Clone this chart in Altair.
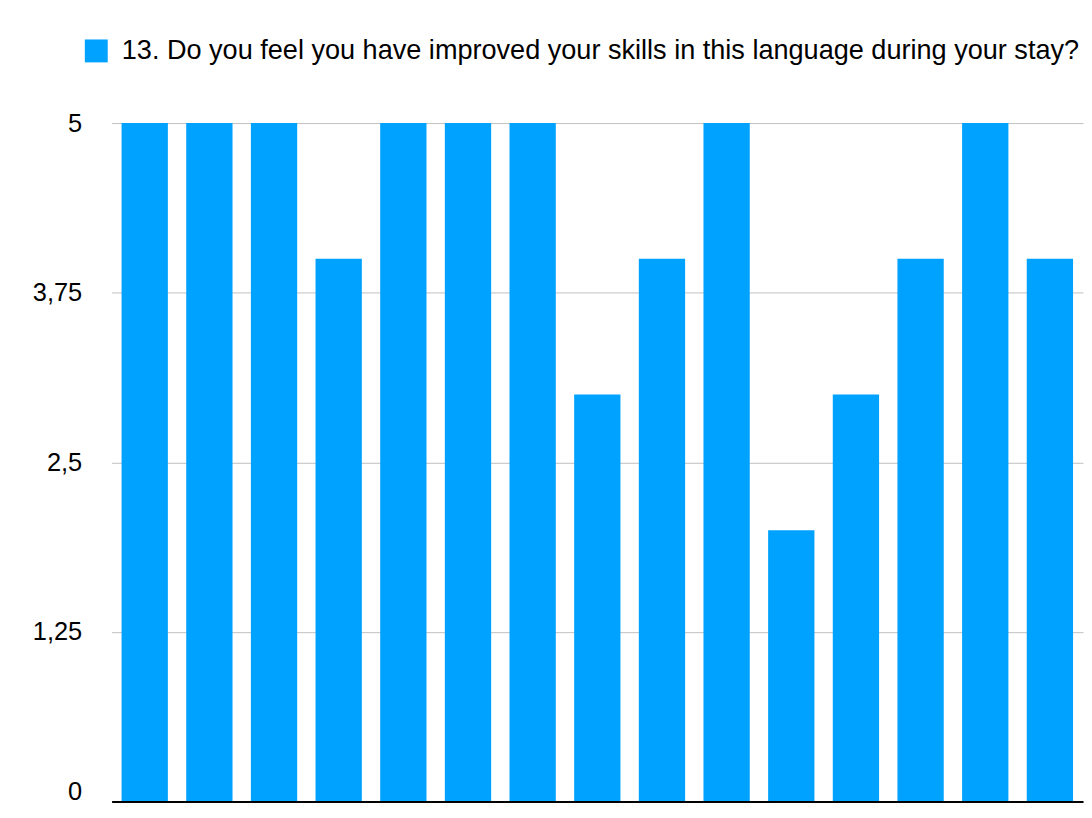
import altair as alt
import pandas as pd

respondents = [str(i) for i in range(1, 16)]
scores = [5, 5, 5, 4, 5, 5, 5, 3, 4, 5, 2, 3, 4, 5, 4]
series_name = "13. Do you feel you have improved your skills in this language during your stay?"
y_ticks = [0, 1.25, 2.5, 3.75, 5]

df = pd.DataFrame({"respondent": respondents, "score": scores, "series": [series_name] * len(scores)})

chart = alt.Chart(df).mark_bar().encode(
    x=alt.X("respondent:N", sort=respondents,
            scale=alt.Scale(paddingInner=0.284, paddingOuter=0.154),
            axis=alt.Axis(title=None, labels=False, ticks=False, domain=True,
                          domainColor="#000000", domainWidth=2, zindex=1, grid=False)),
    y=alt.Y("score:Q", scale=alt.Scale(domain=[0, 5], nice=False),
            axis=alt.Axis(title=None, values=y_ticks, domain=False, ticks=False,
                          grid=True, gridColor="#c0c0c0", gridWidth=1,
                          labelFontSize=25.5, labelColor="#000000", labelPadding=30,
                          labelFont="Liberation Sans",
                          labelOffset={"condition": {"test": "datum.value === 0", "value": -10}, "value": 0},
                          labelExpr="replace(toString(datum.value), '.', ',')")),
    color=alt.Color("series:N", scale=alt.Scale(range=["#00a2ff"]),
                    legend=alt.Legend(title=None, orient="none", legendX=-29, legendY=-86,
                                      symbolType="square", symbolSize=529, symbolStrokeWidth=0,
                                      labelFontSize=27.2, labelFont="Liberation Sans",
                                      labelColor="#000000", labelLimit=0, labelOffset=12)),
).properties(
    width=975, height=681,
    autosize=alt.AutoSizeParams(type="none"),
    padding={"left": 104, "top": 114, "right": 1, "bottom": 3},
).configure_view(stroke=None)

chart.save("out.html", embed_options={"renderer": "svg", "actions": False})
